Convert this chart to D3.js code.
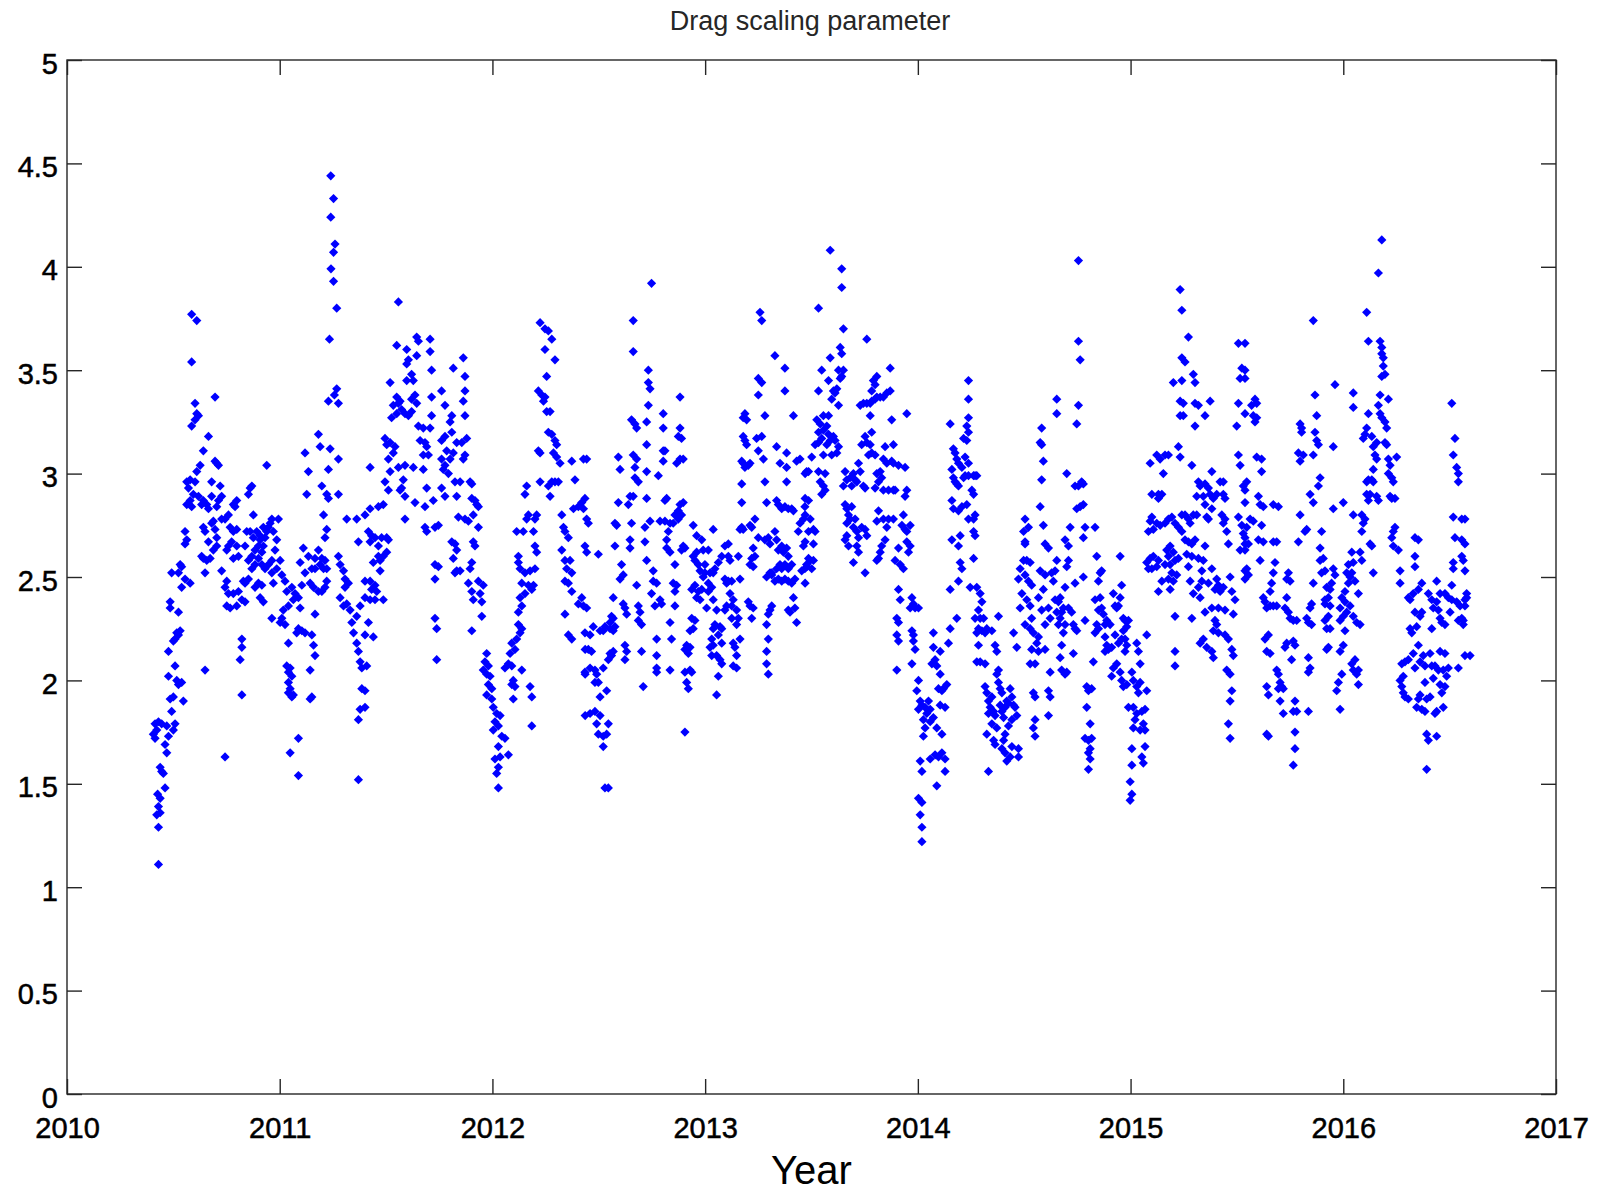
<!DOCTYPE html>
<html>
<head>
<meta charset="utf-8">
<script src="https://cdn.jsdelivr.net/npm/d3@7"></script>
<style>
  html, body { margin: 0; padding: 0; background: #fff; }
  svg { display: block; }
  text { font-family: "Liberation Sans", Arial, Helvetica, sans-serif; }
</style>
</head>
<body>
<svg id="chart" width="1610" height="1195"></svg>
<script>
// ---------------- data (year, value) ----------------
const chartTitle = "Drag scaling parameter";
const xLabel = "Year";
const xTicks = [2010, 2011, 2012, 2013, 2014, 2015, 2016, 2017];
const yTicks = [0, 0.5, 1, 1.5, 2, 2.5, 3, 3.5, 4, 4.5, 5];
const yTickLabels = ["0", "0.5", "1", "1.5", "2", "2.5", "3", "3.5", "4", "4.5", "5"];

const d2010 = [[2010.430,1.11],[2010.430,1.29],[2010.422,1.35],[2010.438,1.36],[2010.430,1.39],[2010.438,1.43],[2010.426,1.45],[2010.461,1.48],[2010.445,1.56],[2010.438,1.58],[2010.453,1.55],[2010.414,1.72],[2010.406,1.74],[2010.422,1.76],[2010.414,1.79],[2010.430,1.80],[2010.445,1.79],[2010.469,1.78],[2010.477,1.73],[2010.461,1.69],[2010.469,1.65],[2010.500,1.76],[2010.508,1.79],[2010.492,1.85],[2010.485,1.91],[2010.500,1.92],[2010.547,1.90],[2010.524,1.98],[2010.539,1.99],[2010.516,2.00],[2010.508,2.07],[2010.477,2.02],[2010.477,2.14],[2010.500,2.19],[2010.516,2.23],[2010.532,2.24],[2010.524,2.22],[2010.508,2.20],[2010.485,2.35],[2010.485,2.38],[2010.524,2.33],[2010.539,2.45],[2010.579,2.47],[2010.555,2.49],[2010.524,2.52],[2010.539,2.55],[2010.492,2.52],[2010.532,2.56],[2010.555,2.66],[2010.563,2.68],[2010.555,2.72],[2010.649,2.52],[2010.641,2.59],[2010.657,2.58],[2010.633,2.60],[2010.579,2.87],[2010.563,2.85],[2010.586,2.84],[2010.571,2.93],[2010.594,2.90],[2010.563,2.96],[2010.579,2.97],[2010.602,2.96],[2010.610,3.01],[2010.626,3.04],[2010.641,3.11],[2010.665,3.18],[2010.586,3.23],[2010.602,3.26],[2010.610,3.29],[2010.602,3.34],[2010.618,3.28],[2010.586,3.54],[2010.586,3.77],[2010.610,3.74],[2010.696,3.37],[2010.649,2.05],[2010.680,2.96],[2010.696,3.06],[2010.704,3.05],[2010.712,3.04],[2010.680,2.89],[2010.720,2.94],[2010.727,2.89],[2010.712,2.87],[2010.704,2.84],[2010.665,2.83],[2010.657,2.85],[2010.633,2.85],[2010.641,2.87],[2010.618,2.89],[2010.680,2.76],[2010.696,2.73],[2010.704,2.69],[2010.688,2.77],[2010.649,2.72],[2010.665,2.67],[2010.641,2.74],[2010.704,2.65],[2010.688,2.63],[2010.673,2.59],[2010.727,2.78],[2010.743,2.78],[2010.759,2.80],[2010.782,2.85],[2010.798,2.87],[2010.790,2.84],[2010.767,2.74],[2010.782,2.72],[2010.798,2.73],[2010.774,2.67],[2010.759,2.65],[2010.751,2.63],[2010.782,2.59],[2010.806,2.60],[2010.798,2.65],[2010.727,2.53],[2010.751,2.48],[2010.743,2.45],[2010.759,2.42],[2010.751,2.36],[2010.767,2.35],[2010.782,2.42],[2010.806,2.43],[2010.798,2.36],[2010.822,2.39],[2010.837,2.38],[2010.829,2.48],[2010.743,1.63],[2010.822,2.20],[2010.822,2.16],[2010.814,2.10],[2010.822,1.93],[2010.869,2.94],[2010.861,2.93],[2010.853,2.90],[2010.876,2.80],[2010.837,2.65],[2010.853,2.58],[2010.869,2.60],[2010.884,2.63],[2010.900,2.65],[2010.908,2.68],[2010.916,2.62],[2010.923,2.65],[2010.931,2.69],[2010.939,2.72],[2010.947,2.74],[2010.955,2.76],[2010.963,2.78],[2010.970,2.72],[2010.986,2.68],[2010.994,2.78],[2010.978,2.63],[2010.963,2.58],[2010.947,2.56],[2010.931,2.54],[2010.916,2.56],[2010.900,2.59],[2010.884,2.56],[2010.869,2.54],[2010.853,2.49],[2010.837,2.47],[2010.900,2.47],[2010.884,2.45],[2010.916,2.46],[2010.908,2.40],[2010.923,2.38],[2010.963,2.52],[2010.986,2.54],[2011.002,2.58],[2011.010,2.51],[2010.970,2.47],[2010.939,3.04],[2010.845,2.72],[2010.861,2.72],[2010.876,2.69],[2010.892,2.72],[2010.908,2.70],[2010.923,2.74]];

const d2011 = [[2011.025,2.48],[2011.033,2.43],[2011.057,2.45],[2011.072,2.42],[2011.064,2.39],[2011.041,2.36],[2011.017,2.34],[2011.010,2.30],[2011.025,2.27],[2011.002,2.28],[2010.963,2.30],[2011.041,2.18],[2011.033,2.07],[2011.049,2.06],[2011.041,2.04],[2011.057,2.02],[2011.041,1.99],[2011.049,1.96],[2011.064,1.93],[2011.057,1.92],[2011.041,1.94],[2011.049,1.65],[2011.088,1.72],[2011.088,1.54],[2011.088,2.25],[2011.080,2.23],[2011.104,2.24],[2011.119,2.23],[2011.096,2.35],[2011.088,2.40],[2011.104,2.46],[2011.119,2.52],[2011.096,2.57],[2011.111,2.64],[2011.135,2.60],[2011.151,2.54],[2011.166,2.54],[2011.143,2.47],[2011.159,2.45],[2011.182,2.43],[2011.151,2.22],[2011.159,2.17],[2011.166,2.12],[2011.143,2.05],[2011.151,1.92],[2011.143,1.91],[2011.127,2.90],[2011.119,3.10],[2011.135,3.01],[2011.182,3.19],[2011.190,3.13],[2011.198,2.94],[2011.206,2.80],[2011.221,2.73],[2011.213,2.69],[2011.166,2.59],[2011.182,2.63],[2011.198,2.59],[2011.213,2.58],[2011.206,2.54],[2011.221,2.54],[2011.190,2.56],[2011.221,2.48],[2011.213,2.45],[2011.198,2.43],[2011.166,2.32],[2011.240,4.44],[2011.253,4.33],[2011.240,4.24],[2011.260,4.11],[2011.253,4.07],[2011.241,3.99],[2011.253,3.93],[2011.268,3.80],[2011.234,3.65],[2011.268,3.41],[2011.229,3.35],[2011.276,3.34],[2011.257,3.38],[2011.237,3.12],[2011.229,3.02],[2011.276,3.07],[2011.276,2.90],[2011.229,2.88],[2011.221,2.90],[2011.276,2.60],[2011.284,2.56],[2011.300,2.53],[2011.307,2.49],[2011.323,2.47],[2011.307,2.45],[2011.284,2.40],[2011.300,2.36],[2011.315,2.37],[2011.331,2.34],[2011.339,2.28],[2011.362,2.31],[2011.378,2.36],[2011.347,2.23],[2011.362,2.18],[2011.370,2.14],[2011.378,2.09],[2011.386,2.06],[2011.386,1.96],[2011.378,1.86],[2011.370,1.81],[2011.370,1.52],[2011.315,2.78],[2011.362,2.78],[2011.370,2.67],[2011.425,3.03],[2011.401,2.80],[2011.425,2.83],[2011.417,2.72],[2011.432,2.70],[2011.425,2.67],[2011.448,2.69],[2011.464,2.65],[2011.479,2.69],[2011.503,2.69],[2011.511,2.68],[2011.464,2.60],[2011.487,2.60],[2011.503,2.62],[2011.472,2.58],[2011.440,2.57],[2011.472,2.53],[2011.401,2.48],[2011.425,2.48],[2011.448,2.46],[2011.432,2.44],[2011.456,2.43],[2011.401,2.40],[2011.425,2.39],[2011.448,2.39],[2011.487,2.39],[2011.417,2.28],[2011.401,2.22],[2011.440,2.21],[2011.409,2.07],[2011.401,1.95],[2011.401,1.87],[2011.464,2.84],[2011.487,2.85],[2011.511,2.92],[2011.495,2.96],[2011.519,3.01],[2011.511,3.07],[2011.503,3.14],[2011.519,3.15],[2011.542,3.13],[2011.534,3.10],[2011.495,3.17],[2011.526,3.27],[2011.550,3.29],[2011.534,3.33],[2011.558,3.34],[2011.550,3.37],[2011.573,3.31],[2011.589,3.29],[2011.605,3.28],[2011.620,3.30],[2011.566,3.35],[2011.519,3.44],[2011.558,3.83],[2011.550,3.62],[2011.597,3.60],[2011.605,3.55],[2011.597,3.53],[2011.644,3.66],[2011.652,3.64],[2011.644,3.57],[2011.620,3.48],[2011.628,3.45],[2011.597,3.45],[2011.636,3.38],[2011.620,3.36],[2011.644,3.34],[2011.707,3.65],[2011.707,3.59],[2011.714,3.50],[2011.714,3.37],[2011.761,3.40],[2011.777,3.33],[2011.714,3.28],[2011.707,3.22],[2011.652,3.23],[2011.675,3.22],[2011.660,3.16],[2011.683,3.15],[2011.691,3.13],[2011.675,3.09],[2011.699,3.09],[2011.558,3.03],[2011.589,3.04],[2011.628,3.03],[2011.675,3.02],[2011.581,2.97],[2011.573,2.93],[2011.589,2.89],[2011.566,2.92],[2011.636,2.86],[2011.683,2.84],[2011.691,2.93],[2011.722,2.87],[2011.761,2.93],[2011.777,2.89],[2011.589,2.78],[2011.683,2.74],[2011.691,2.72],[2011.730,2.74],[2011.746,2.75],[2011.730,2.56],[2011.746,2.55],[2011.730,2.49],[2011.730,2.30],[2011.738,2.25],[2011.738,2.10],[2011.761,3.16],[2011.777,3.18],[2011.785,3.11],[2011.761,3.07],[2011.777,3.04],[2011.793,3.00],[2011.769,3.02],[2011.801,3.07],[2011.816,3.10],[2011.809,3.20],[2011.816,3.51],[2011.863,3.56],[2011.871,3.47],[2011.871,3.40],[2011.863,3.35],[2011.871,3.28],[2011.809,3.28],[2011.801,3.25],[2011.832,3.15],[2011.856,3.15],[2011.879,3.17],[2011.871,3.09],[2011.863,3.07],[2011.824,2.96],[2011.848,2.96],[2011.832,2.89],[2011.840,2.79],[2011.871,2.78],[2011.887,2.77],[2011.895,2.96],[2011.903,2.95],[2011.809,2.67],[2011.824,2.66],[2011.832,2.63],[2011.816,2.59],[2011.832,2.53],[2011.824,2.52],[2011.848,2.53],[2011.903,2.88],[2011.918,2.87],[2011.926,2.85],[2011.934,2.84],[2011.910,2.80],[2011.934,2.74],[2011.910,2.67],[2011.918,2.65],[2011.903,2.57],[2011.895,2.54],[2011.887,2.47],[2011.903,2.43],[2011.910,2.39],[2011.934,2.48],[2011.942,2.42],[2011.950,2.38],[2011.957,2.46],[2011.950,2.31],[2011.903,2.24]];

const d2012 = [[2011.973,2.13],[2011.965,2.09],[2011.981,2.07],[2011.957,2.05],[2011.973,2.03],[2011.989,2.02],[2011.981,1.98],[2011.997,1.96],[2011.973,1.93],[2011.997,1.91],[2012.004,1.87],[2012.020,1.84],[2012.036,1.83],[2012.012,1.80],[2012.028,1.78],[2012.004,1.76],[2012.044,1.73],[2012.059,1.72],[2012.028,1.68],[2012.012,1.62],[2012.036,1.63],[2012.075,1.64],[2012.028,1.58],[2012.020,1.55],[2012.028,1.48],[2012.059,2.06],[2012.075,2.08],[2012.091,2.07],[2012.098,2.00],[2012.091,1.98],[2012.106,1.97],[2012.083,2.13],[2012.091,2.18],[2012.114,2.20],[2012.106,2.15],[2012.130,2.23],[2012.138,2.25],[2012.122,2.27],[2012.138,2.05],[2012.177,1.97],[2012.185,1.92],[2012.185,1.78],[2012.098,1.91],[2012.122,2.33],[2012.138,2.36],[2012.130,2.40],[2012.153,2.42],[2012.138,2.47],[2012.169,2.46],[2012.185,2.44],[2012.193,2.46],[2012.153,2.52],[2012.177,2.53],[2012.200,2.54],[2012.200,2.65],[2012.208,2.62],[2012.193,2.72],[2012.130,2.54],[2012.122,2.57],[2012.122,2.60],[2012.114,2.72],[2012.145,2.72],[2012.161,2.78],[2012.169,2.80],[2012.200,2.78],[2012.208,2.80],[2012.153,2.90],[2012.161,2.94],[2012.224,2.96],[2012.216,3.11],[2012.224,3.10],[2012.216,3.40],[2012.232,3.38],[2012.240,3.35],[2012.247,3.37],[2012.255,3.30],[2012.271,3.30],[2012.255,3.47],[2012.247,3.60],[2012.294,3.55],[2012.224,3.73],[2012.247,3.70],[2012.263,3.69],[2012.279,3.65],[2012.263,3.20],[2012.279,3.19],[2012.294,3.16],[2012.302,3.14],[2012.287,3.10],[2012.302,3.08],[2012.318,3.05],[2012.294,2.96],[2012.279,2.96],[2012.310,2.96],[2012.263,2.94],[2012.271,2.89],[2012.326,2.80],[2012.334,2.74],[2012.341,2.72],[2012.357,2.69],[2012.326,2.63],[2012.341,2.58],[2012.365,2.58],[2012.349,2.54],[2012.373,2.52],[2012.341,2.48],[2012.357,2.47],[2012.373,2.43],[2012.404,2.37],[2012.428,2.36],[2012.420,2.40],[2012.341,2.32],[2012.357,2.22],[2012.373,2.20],[2012.436,2.15],[2012.436,2.03],[2012.436,1.83],[2012.373,3.06],[2012.388,2.97],[2012.428,3.07],[2012.420,2.86],[2012.428,2.83],[2012.443,2.78],[2012.404,2.84],[2012.381,2.83],[2012.443,3.07],[2012.435,2.88],[2012.451,2.76],[2012.435,2.65],[2012.443,2.62],[2012.498,2.61],[2012.443,2.35],[2012.435,2.23],[2012.459,2.22],[2012.474,2.26],[2012.506,2.24],[2012.521,2.24],[2012.529,2.26],[2012.553,2.25],[2012.568,2.24],[2012.576,2.26],[2012.451,2.15],[2012.466,2.14],[2012.459,2.06],[2012.482,2.05],[2012.435,2.04],[2012.490,2.03],[2012.482,1.99],[2012.498,1.99],[2012.521,2.06],[2012.537,1.95],[2012.506,1.92],[2012.482,1.85],[2012.459,1.84],[2012.506,1.83],[2012.490,1.79],[2012.545,1.79],[2012.498,1.74],[2012.521,1.73],[2012.537,1.74],[2012.521,1.68],[2012.529,1.48],[2012.545,1.48],[2012.553,2.13],[2012.560,2.12],[2012.545,2.10],[2012.568,2.14],[2012.560,2.31],[2012.568,2.30],[2012.553,2.28],[2012.568,2.40],[2012.576,2.76],[2012.584,2.75],[2012.576,2.65],[2012.592,2.86],[2012.600,3.02],[2012.592,3.08],[2012.607,2.56],[2012.615,2.51],[2012.600,2.49],[2012.615,2.37],[2012.623,2.35],[2012.631,2.32],[2012.623,2.17],[2012.631,2.14],[2012.623,2.10],[2012.647,2.89],[2012.662,2.89],[2012.639,2.85],[2012.654,2.76],[2012.647,2.68],[2012.647,2.64],[2012.670,3.03],[2012.662,3.09],[2012.678,3.07],[2012.686,2.96],[2012.670,2.98],[2012.654,3.26],[2012.670,3.24],[2012.678,3.22],[2012.662,3.74],[2012.662,3.59],[2012.678,2.46],[2012.686,2.36],[2012.694,2.33],[2012.686,2.29],[2012.701,2.27],[2012.701,2.14],[2012.709,1.97],[2012.717,2.74],[2012.717,2.67],[2012.725,2.58],[2012.725,2.88],[2012.725,3.01],[2012.725,3.14],[2012.725,3.25],[2012.733,3.33],[2012.733,3.44],[2012.741,3.41],[2012.733,3.50],[2012.748,3.92],[2012.741,2.77],[2012.756,2.53],[2012.756,2.48],[2012.772,2.47],[2012.748,2.42],[2012.764,2.36],[2012.772,2.20],[2012.772,2.12],[2012.772,2.06],[2012.772,2.04],[2012.788,2.39],[2012.795,2.37],[2012.788,2.77],[2012.780,2.99],[2012.803,3.06],[2012.803,3.11],[2012.811,3.11],[2012.803,3.22],[2012.803,3.29],[2012.811,2.87],[2012.819,2.88],[2012.811,2.77],[2012.835,2.76],[2012.858,2.80],[2012.874,2.78],[2012.889,2.80],[2012.897,2.86],[2012.882,2.85],[2012.874,2.82],[2012.850,2.76],[2012.827,2.72],[2012.819,2.68],[2012.819,2.64],[2012.835,2.62],[2012.858,2.56],[2012.850,2.47],[2012.858,2.43],[2012.866,2.46],[2012.858,2.36],[2012.835,2.28],[2012.842,2.20],[2012.835,2.05],[2012.866,3.05],[2012.882,3.07],[2012.874,3.18],[2012.882,3.22],[2012.889,3.17],[2012.882,3.37],[2012.897,3.07],[2012.897,2.65],[2012.905,2.64],[2012.889,2.63],[2012.913,2.17],[2012.905,2.15],[2012.921,2.13],[2012.905,2.04],[2012.929,2.05],[2012.937,2.04],[2012.913,1.99],[2012.921,1.96],[2012.905,1.75],[2012.929,2.16],[2012.937,2.30],[2012.929,2.24],[2012.944,2.25],[2012.952,2.29],[2012.937,2.44],[2012.952,2.46],[2012.968,2.43],[2012.984,2.44],[2012.976,2.39],[2012.960,2.40],[2012.999,2.52],[2012.999,2.56],[2012.991,2.50],[2012.976,2.53],[2012.968,2.56],[2012.952,2.58],[2012.944,2.60],[2012.960,2.62],[2012.944,2.75],[2012.960,2.70],[2012.984,2.68],[2012.991,2.63]];

const d2013 = [[2013.015,2.63],[2013.023,2.52],[2013.015,2.47],[2013.038,2.52],[2013.046,2.54],[2013.031,2.45],[2013.015,2.43],[2013.038,2.39],[2013.007,2.35],[2013.054,2.34],[2013.046,2.27],[2013.038,2.25],[2013.070,2.26],[2013.078,2.25],[2013.062,2.22],[2013.078,2.18],[2013.031,2.20],[2013.038,2.17],[2013.023,2.16],[2013.031,2.12],[2013.054,2.12],[2013.070,2.10],[2013.078,2.08],[2013.062,2.02],[2013.054,1.93],[2013.038,2.73],[2013.062,2.57],[2013.078,2.60],[2013.093,2.65],[2013.109,2.66],[2013.117,2.58],[2013.109,2.60],[2013.093,2.49],[2013.109,2.48],[2013.125,2.48],[2013.101,2.47],[2013.117,2.42],[2013.132,2.39],[2013.125,2.36],[2013.148,2.34],[2013.156,2.30],[2013.125,2.30],[2013.101,2.36],[2013.093,2.34],[2013.132,2.18],[2013.140,2.16],[2013.148,2.12],[2013.132,2.07],[2013.148,2.06],[2013.164,2.20],[2013.148,2.27],[2013.164,2.49],[2013.156,2.60],[2013.164,2.73],[2013.172,2.74],[2013.179,2.73],[2013.172,2.86],[2013.179,3.27],[2013.187,3.29],[2013.195,3.26],[2013.179,3.18],[2013.187,3.16],[2013.195,3.14],[2013.172,3.06],[2013.179,3.05],[2013.187,3.03],[2013.203,3.04],[2013.211,3.05],[2013.172,2.95],[2013.211,2.75],[2013.219,2.74],[2013.234,2.78],[2013.226,2.64],[2013.219,2.59],[2013.234,2.60],[2013.226,2.55],[2013.211,2.56],[2013.203,2.38],[2013.211,2.36],[2013.226,2.35],[2013.219,2.30],[2013.250,2.69],[2013.242,3.17],[2013.250,3.11],[2013.274,3.07],[2013.266,3.18],[2013.258,3.78],[2013.266,3.74],[2013.250,3.46],[2013.266,3.44],[2013.250,3.38],[2013.281,3.28],[2013.281,2.96],[2013.289,2.86],[2013.281,2.68],[2013.297,2.69],[2013.305,2.66],[2013.289,2.50],[2013.305,2.52],[2013.313,2.51],[2013.305,2.34],[2013.297,2.32],[2013.313,2.36],[2013.289,2.27],[2013.297,2.20],[2013.289,2.14],[2013.289,2.08],[2013.297,2.03],[2013.328,3.57],[2013.375,3.51],[2013.375,3.40],[2013.415,3.28],[2013.336,3.13],[2013.383,3.10],[2013.352,3.05],[2013.383,3.03],[2013.383,2.96],[2013.336,2.87],[2013.344,2.85],[2013.360,2.83],[2013.375,2.84],[2013.391,2.83],[2013.407,2.83],[2013.415,2.82],[2013.328,2.72],[2013.336,2.68],[2013.344,2.63],[2013.360,2.65],[2013.368,2.62],[2013.383,2.64],[2013.391,2.60],[2013.352,2.56],[2013.360,2.54],[2013.375,2.56],[2013.391,2.54],[2013.407,2.56],[2013.328,2.48],[2013.344,2.49],[2013.360,2.48],[2013.375,2.49],[2013.391,2.48],[2013.407,2.47],[2013.422,2.49],[2013.415,2.40],[2013.422,2.35],[2013.399,2.33],[2013.430,2.28],[2013.391,2.34],[2013.313,2.52],[2013.336,2.54],[2013.430,3.06],[2013.446,3.07],[2013.438,2.72],[2013.446,2.76],[2013.462,2.78],[2013.469,2.84],[2013.462,2.65],[2013.469,2.54],[2013.454,2.53],[2013.477,2.56],[2013.477,3.01],[2013.470,3.00],[2013.486,3.01],[2013.470,2.88],[2013.486,2.87],[2013.470,2.80],[2013.494,2.78],[2013.509,2.73],[2013.486,2.72],[2013.517,2.72],[2013.470,2.67],[2013.509,2.66],[2013.486,2.59],[2013.494,2.58],[2013.509,2.58],[2013.478,2.55],[2013.501,2.54],[2013.470,2.47],[2013.533,3.80],[2013.533,3.40],[2013.548,3.50],[2013.580,3.45],[2013.588,3.56],[2013.595,3.36],[2013.603,3.40],[2013.619,3.41],[2013.611,3.39],[2013.627,3.33],[2013.580,3.28],[2013.556,3.28],[2013.525,3.26],[2013.541,3.24],[2013.533,3.20],[2013.556,3.21],[2013.572,3.23],[2013.580,3.19],[2013.603,3.18],[2013.611,3.16],[2013.588,3.16],[2013.572,3.14],[2013.548,3.17],[2013.533,3.15],[2013.517,3.14],[2013.501,3.08],[2013.556,3.09],[2013.595,3.09],[2013.619,3.10],[2013.627,3.13],[2013.588,4.08],[2013.642,3.99],[2013.642,3.90],[2013.650,3.70],[2013.635,3.61],[2013.642,3.58],[2013.627,3.50],[2013.650,3.50],[2013.642,3.47],[2013.635,3.46],[2013.533,3.01],[2013.541,2.96],[2013.556,2.94],[2013.564,2.92],[2013.548,2.90],[2013.564,3.00],[2013.658,3.01],[2013.650,2.94],[2013.666,2.97],[2013.682,2.98],[2013.697,3.00],[2013.705,2.97],[2013.713,2.96],[2013.689,2.94],[2013.729,3.01],[2013.744,2.94],[2013.752,2.93],[2013.721,3.05],[2013.658,2.85],[2013.666,2.83],[2013.674,2.80],[2013.689,2.84],[2013.682,2.78],[2013.666,2.76],[2013.705,2.78],[2013.697,2.74],[2013.713,2.72],[2013.721,2.69],[2013.736,2.74],[2013.752,2.73],[2013.760,2.70],[2013.666,2.70],[2013.658,2.68],[2013.674,2.65],[2013.713,2.65],[2013.721,2.62],[2013.697,2.57],[2013.752,2.52],[2013.729,3.33],[2013.744,3.34],[2013.760,3.34],[2013.776,3.34],[2013.783,3.35],[2013.799,3.36],[2013.807,3.37],[2013.823,3.37],[2013.838,3.37],[2013.854,3.39],[2013.870,3.40],[2013.791,3.45],[2013.799,3.43],[2013.783,3.40],[2013.807,3.47],[2013.760,3.65],[2013.776,3.28],[2013.783,3.20],[2013.752,3.18],[2013.736,3.14],[2013.760,3.15],[2013.776,3.14],[2013.783,3.10],[2013.799,3.09],[2013.768,3.09],[2013.870,3.51],[2013.877,3.26],[2013.948,3.29],[2013.885,3.14],[2013.846,3.13],[2013.838,3.07],[2013.854,3.05],[2013.877,3.06],[2013.885,3.05],[2013.823,3.01],[2013.807,3.00],[2013.830,2.98],[2013.799,2.93],[2013.815,2.96],[2013.838,2.92],[2013.862,2.92],[2013.885,2.92],[2013.893,2.92],[2013.815,2.82],[2013.807,2.77],[2013.838,2.78],[2013.862,2.78],[2013.885,2.78],[2013.854,2.74],[2013.846,2.68],[2013.830,2.65],[2013.823,2.62],[2013.807,2.58],[2013.815,2.59],[2013.909,3.04],[2013.940,3.03],[2013.948,2.92],[2013.940,2.89],[2013.932,2.80],[2013.925,2.75],[2013.940,2.73],[2013.964,2.75],[2013.948,2.72],[2013.948,2.67],[2013.964,2.65],[2013.956,2.62],[2013.909,2.64],[2013.893,2.58],[2013.917,2.56],[2013.932,2.54],[2013.909,2.44],[2013.917,2.39],[2013.901,2.30],[2013.909,2.28],[2013.901,2.22],[2013.909,2.19],[2013.901,2.05],[2013.972,2.40],[2013.979,2.37],[2013.964,2.35],[2013.987,2.35],[2014.003,2.35],[2013.972,2.24],[2013.979,2.22],[2013.987,2.15],[2013.972,2.08],[2013.979,2.19]];

const d2014 = [[2014.003,2.00],[2013.995,1.95],[2014.011,1.90],[2014.003,1.86],[2014.019,1.88],[2014.034,1.87],[2014.050,1.90],[2014.058,1.86],[2014.042,1.84],[2014.026,1.81],[2014.034,1.77],[2014.026,1.73],[2014.058,1.80],[2014.073,1.82],[2014.066,2.08],[2014.081,2.10],[2014.073,2.16],[2014.073,2.23],[2014.089,2.07],[2014.105,2.14],[2014.105,2.03],[2014.097,1.96],[2014.113,1.95],[2014.105,1.88],[2014.120,1.96],[2014.136,1.98],[2014.144,2.18],[2014.152,2.25],[2014.128,1.87],[2014.089,1.77],[2014.113,1.74],[2014.081,1.64],[2014.097,1.63],[2014.113,1.65],[2014.128,1.62],[2014.128,1.56],[2014.089,1.49],[2014.011,1.61],[2014.019,1.56],[2014.003,1.43],[2014.019,1.41],[2014.011,1.35],[2014.019,1.29],[2014.019,1.22],[2014.058,1.62],[2014.152,3.24],[2014.167,3.12],[2014.175,3.10],[2014.183,3.07],[2014.191,3.05],[2014.207,3.03],[2014.160,3.02],[2014.167,2.98],[2014.175,2.96],[2014.183,2.95],[2014.191,2.94],[2014.215,2.98],[2014.222,2.99],[2014.238,2.99],[2014.262,2.99],[2014.269,2.99],[2014.277,2.99],[2014.160,2.87],[2014.167,2.83],[2014.191,2.82],[2014.207,2.84],[2014.230,2.85],[2014.238,2.78],[2014.262,2.78],[2014.269,2.80],[2014.262,2.90],[2014.254,2.92],[2014.199,2.70],[2014.160,2.68],[2014.191,2.65],[2014.199,2.57],[2014.207,2.54],[2014.191,2.48],[2014.152,2.44],[2014.183,2.30],[2014.238,3.45],[2014.238,3.36],[2014.238,3.27],[2014.230,3.23],[2014.238,3.20],[2014.215,3.17],[2014.230,3.16],[2014.222,3.08],[2014.238,3.05],[2014.262,2.72],[2014.269,2.70],[2014.262,2.59],[2014.246,2.45],[2014.277,2.45],[2014.293,2.42],[2014.301,2.38],[2014.285,2.34],[2014.269,2.30],[2014.293,2.30],[2014.309,2.30],[2014.285,2.25],[2014.301,2.24],[2014.324,2.25],[2014.316,2.23],[2014.277,2.23],[2014.285,2.17],[2014.277,2.09],[2014.293,2.09],[2014.316,2.08],[2014.379,2.31],[2014.363,2.17],[2014.348,2.24],[2014.316,1.97],[2014.324,1.94],[2014.332,1.90],[2014.340,1.87],[2014.332,1.84],[2014.348,1.92],[2014.356,1.85],[2014.363,1.83],[2014.348,1.79],[2014.324,1.74],[2014.356,1.71],[2014.363,1.69],[2014.371,1.77],[2014.379,2.05],[2014.371,2.03],[2014.379,1.99],[2014.387,1.96],[2014.395,1.94],[2014.387,1.88],[2014.395,1.85],[2014.403,1.82],[2014.410,1.87],[2014.418,1.90],[2014.426,1.89],[2014.442,1.92],[2014.434,1.96],[2014.450,1.88],[2014.457,1.87],[2014.465,1.83],[2014.442,1.81],[2014.426,1.78],[2014.410,1.74],[2014.403,1.71],[2014.395,1.67],[2014.410,1.65],[2014.418,1.61],[2014.434,1.63],[2014.442,1.68],[2014.473,1.67],[2014.473,1.63],[2014.332,1.56],[2014.371,2.14],[2014.450,2.23],[2014.465,2.16],[2014.481,2.35],[2014.489,2.42],[2014.473,2.49],[2014.481,2.54],[2014.497,2.58],[2014.504,2.67],[2014.497,2.72],[2014.504,2.78],[2014.520,2.74],[2014.504,2.66],[2014.512,2.58],[2014.528,2.57],[2014.504,2.51],[2014.520,2.48],[2014.535,2.46],[2014.512,2.39],[2014.528,2.36],[2014.535,2.30],[2014.504,2.27],[2014.528,2.25],[2014.543,2.23],[2014.535,2.15],[2014.551,2.08],[2014.528,2.08],[2014.559,2.18],[2014.567,2.14],[2014.543,1.94],[2014.551,1.92],[2014.551,1.81],[2014.543,1.77],[2014.551,1.73],[2014.582,3.22],[2014.575,3.15],[2014.582,3.14],[2014.590,3.06],[2014.582,2.97],[2014.575,2.84],[2014.590,2.75],[2014.598,2.66],[2014.614,2.64],[2014.575,2.53],[2014.598,2.51],[2014.590,2.44],[2014.567,2.40],[2014.582,2.34],[2014.614,2.35],[2014.622,2.30],[2014.598,2.27],[2014.567,2.21],[2014.598,2.15],[2014.622,2.04],[2014.614,1.95],[2014.622,1.92],[2014.614,1.83],[2014.629,2.52],[2014.645,2.53],[2014.637,2.48],[2014.653,2.58],[2014.645,2.39],[2014.661,2.38],[2014.669,2.40],[2014.653,2.33],[2014.669,2.30],[2014.676,2.33],[2014.684,2.35],[2014.661,2.27],[2014.692,2.27],[2014.684,2.23],[2014.676,2.17],[2014.669,2.11],[2014.676,2.05],[2014.692,2.03],[2014.653,3.36],[2014.653,3.29],[2014.700,3.00],[2014.692,2.68],[2014.708,2.65],[2014.708,2.58],[2014.700,2.55],[2014.692,2.45],[2014.716,2.74],[2014.739,2.47],[2014.723,2.33],[2014.708,2.35],[2014.731,2.27],[2014.739,2.25],[2014.747,2.24],[2014.731,2.13],[2014.700,2.04],[2014.755,4.03],[2014.755,3.64],[2014.763,3.55],[2014.755,3.33],[2014.747,3.24],[2014.739,2.94],[2014.755,2.94],[2014.770,2.96],[2014.778,2.95],[2014.747,2.83],[2014.763,2.84],[2014.778,2.85],[2014.786,2.74],[2014.778,2.69],[2014.778,2.50],[2014.794,1.97],[2014.802,1.95],[2014.817,1.96],[2014.794,1.87],[2014.810,1.79],[2014.786,1.72],[2014.802,1.71],[2014.817,1.72],[2014.810,1.67],[2014.802,1.65],[2014.810,1.62],[2014.802,1.57],[2014.825,2.09],[2014.786,2.29],[2014.833,2.74],[2014.841,2.60],[2014.857,2.52],[2014.849,2.48],[2014.864,2.53],[2014.833,2.39],[2014.857,2.40],[2014.849,2.34],[2014.864,2.35],[2014.872,2.32],[2014.841,2.27],[2014.833,2.23],[2014.849,2.25],[2014.880,2.27],[2014.888,2.29],[2014.904,2.27],[2014.880,2.21],[2014.888,2.17],[2014.880,2.14],[2014.896,2.15],[2014.911,2.16],[2014.927,2.22],[2014.919,2.42],[2014.927,2.36],[2014.943,2.36],[2014.951,2.40],[2014.958,2.46],[2014.935,2.35],[2014.966,2.30],[2014.974,2.29],[2014.990,2.29],[2014.982,2.26],[2014.966,2.24],[2014.958,2.20],[2014.943,2.18],[2014.974,2.20],[2014.982,2.17],[2014.974,2.14],[2014.935,2.08],[2014.919,2.06],[2014.911,2.02],[2014.951,2.60],[2014.951,2.04],[2014.958,2.00],[2014.966,1.97],[2014.982,1.98],[2014.990,1.87],[2014.998,1.51],[2014.998,1.42]];

const d2015 = [[2015.006,2.04],[2015.013,2.00],[2015.013,1.87],[2015.029,1.84],[2015.021,1.81],[2015.013,1.77],[2015.053,1.85],[2015.068,1.86],[2015.060,1.79],[2015.045,1.76],[2015.068,1.76],[2015.068,1.68],[2015.053,1.63],[2015.060,1.60],[2015.006,1.67],[2015.006,1.59],[2015.006,1.45],[2015.037,1.94],[2015.029,1.97],[2015.045,1.99],[2015.076,1.95],[2015.045,2.08],[2015.037,2.14],[2015.029,2.18],[2015.076,2.22],[2015.076,2.57],[2015.084,2.54],[2015.100,2.54],[2015.123,2.55],[2015.092,2.59],[2015.107,2.60],[2015.131,2.58],[2015.084,2.72],[2015.107,2.73],[2015.092,2.77],[2015.100,2.79],[2015.123,2.76],[2015.139,2.75],[2015.162,2.76],[2015.100,2.90],[2015.131,2.90],[2015.147,2.90],[2015.131,2.88],[2015.092,3.05],[2015.123,3.09],[2015.139,3.07],[2015.162,3.09],[2015.154,3.00],[2015.178,3.09],[2015.131,2.43],[2015.147,2.48],[2015.162,2.56],[2015.178,2.60],[2015.170,2.63],[2015.186,2.65],[2015.201,2.62],[2015.209,2.58],[2015.225,2.59],[2015.186,2.56],[2015.194,2.52],[2015.217,2.51],[2015.178,2.49],[2015.201,2.48],[2015.186,2.44],[2015.209,2.31],[2015.209,2.14],[2015.209,2.07],[2015.201,3.44],[2015.241,3.45],[2015.233,3.35],[2015.248,3.34],[2015.233,3.28],[2015.248,3.28],[2015.272,3.66],[2015.241,3.56],[2015.256,3.54],[2015.295,3.48],[2015.303,3.44],[2015.233,3.89],[2015.241,3.79],[2015.225,3.13],[2015.233,3.08],[2015.178,2.78],[2015.194,2.79],[2015.209,2.76],[2015.225,2.74],[2015.241,2.80],[2015.256,2.80],[2015.272,2.78],[2015.280,2.76],[2015.295,2.80],[2015.311,2.80],[2015.241,2.72],[2015.256,2.68],[2015.272,2.67],[2015.288,2.66],[2015.303,2.68],[2015.264,2.61],[2015.288,2.60],[2015.319,2.59],[2015.272,2.55],[2015.280,2.48],[2015.295,2.42],[2015.327,2.40],[2015.319,2.45],[2015.335,2.48],[2015.288,2.30],[2015.288,3.04],[2015.319,2.96],[2015.311,2.89],[2015.327,2.94],[2015.350,2.95],[2015.366,2.93],[2015.342,2.89],[2015.350,2.85],[2015.374,2.90],[2015.382,3.01],[2015.358,2.79],[2015.366,2.78],[2015.382,2.83],[2015.389,2.88],[2015.405,2.90],[2015.421,2.96],[2015.436,2.96],[2015.436,2.90],[2015.444,2.88],[2015.429,2.80],[2015.444,2.78],[2015.436,2.76],[2015.452,2.72],[2015.460,2.66],[2015.303,3.34],[2015.319,3.33],[2015.350,3.28],[2015.374,3.35],[2015.303,3.23],[2015.350,2.65],[2015.342,2.58],[2015.335,2.53],[2015.382,2.54],[2015.366,2.47],[2015.405,2.49],[2015.413,2.46],[2015.397,2.44],[2015.421,2.43],[2015.436,2.45],[2015.468,2.50],[2015.476,2.43],[2015.491,2.39],[2015.483,2.32],[2015.444,2.34],[2015.413,2.35],[2015.382,2.35],[2015.350,2.33],[2015.397,2.29],[2015.405,2.27],[2015.389,2.24],[2015.413,2.23],[2015.444,2.22],[2015.460,2.20],[2015.342,2.20],[2015.327,2.18],[2015.358,2.16],[2015.382,2.14],[2015.389,2.11],[2015.476,2.15],[2015.483,2.12],[2015.452,2.05],[2015.468,2.03],[2015.476,1.95],[2015.468,1.90],[2015.460,1.79],[2015.468,1.72],[2015.507,3.63],[2015.523,3.51],[2015.515,3.46],[2015.507,3.34],[2015.499,3.23],[2015.507,3.09],[2015.515,3.04],[2015.530,2.94],[2015.538,2.92],[2015.507,2.79],[2015.523,2.75],[2015.530,2.71],[2015.538,2.66],[2015.515,2.63],[2015.538,2.53],[2015.538,3.63],[2015.538,3.50],[2015.538,3.46],[2015.538,3.29],[2015.569,3.33],[2015.585,3.36],[2015.593,3.34],[2015.577,3.28],[2015.593,3.27],[2015.585,3.25],[2015.546,2.96],[2015.538,2.86],[2015.562,2.78],[2015.577,2.77],[2015.546,2.74],[2015.538,2.69],[2015.554,2.66],[2015.538,2.63],[2015.546,2.54],[2015.554,2.51],[2015.538,2.49],[2015.593,3.08],[2015.616,3.07],[2015.616,3.01],[2015.601,2.89],[2015.609,2.85],[2015.624,2.84],[2015.616,2.75],[2015.601,2.68],[2015.624,2.67],[2015.671,2.67],[2015.687,2.67],[2015.609,2.58],[2015.671,2.85],[2015.695,2.84],[2015.624,2.40],[2015.632,2.38],[2015.640,2.35],[2015.656,2.36],[2015.671,2.36],[2015.687,2.36],[2015.663,2.47],[2015.671,2.52],[2015.679,2.57],[2015.656,2.43],[2015.632,2.20],[2015.648,2.22],[2015.640,2.14],[2015.656,2.13],[2015.640,1.97],[2015.648,1.93],[2015.640,1.74],[2015.648,1.73],[2015.687,2.05],[2015.695,2.03],[2015.703,1.99],[2015.710,1.97],[2015.695,1.96],[2015.718,1.96],[2015.703,1.90],[2015.718,1.84],[2015.734,2.49],[2015.742,2.52],[2015.750,2.48],[2015.734,2.40],[2015.726,2.35],[2015.742,2.33],[2015.750,2.30],[2015.765,2.29],[2015.781,2.29],[2015.734,2.18],[2015.726,2.16],[2015.765,2.19],[2015.773,2.17],[2015.757,2.10],[2015.773,1.90],[2015.765,1.85],[2015.781,1.85],[2015.773,1.75],[2015.773,1.67],[2015.765,1.59],[2015.797,2.80],[2015.820,2.72],[2015.828,2.73],[2015.789,2.67],[2015.804,3.22],[2015.797,3.24],[2015.804,3.20],[2015.789,3.10],[2015.812,3.09],[2015.797,3.06],[2015.859,3.74],[2015.867,3.38],[2015.875,3.28],[2015.867,3.20],[2015.875,3.16],[2015.883,3.14],[2015.859,3.09],[2015.891,2.98],[2015.883,2.94],[2015.844,2.90],[2015.859,2.86],[2015.898,2.72],[2015.891,2.64],[2015.891,2.58],[2015.898,2.52],[2015.859,2.47],[2015.851,2.37],[2015.844,2.35],[2015.828,2.30],[2015.836,2.28],[2015.851,2.27],[2015.836,2.11],[2015.844,2.06],[2015.836,2.04],[2015.836,1.85],[2015.906,2.59],[2015.914,2.53],[2015.922,2.45],[2015.914,2.39],[2015.930,2.40],[2015.938,2.44],[2015.945,2.47],[2015.953,2.54],[2015.961,2.51],[2015.938,2.36],[2015.914,2.29],[2015.930,2.31],[2015.922,2.25],[2015.938,2.25],[2015.930,2.16],[2015.922,2.15],[2015.914,2.37],[2015.953,3.13],[2015.961,3.43],[2015.953,2.83],[2015.969,1.95],[2015.985,1.86],[2015.977,1.99],[2015.993,2.03],[2015.985,2.14],[2015.985,2.35],[2015.993,2.40],[2015.985,2.29]];

const d2016 = [[2016.000,2.17],[2016.008,2.24],[2016.008,2.43],[2016.024,2.47],[2016.016,2.52],[2016.032,2.50],[2016.040,2.52],[2016.024,2.56],[2016.008,2.38],[2016.000,2.31],[2016.016,2.33],[2016.032,2.36],[2016.047,2.31],[2016.063,2.28],[2016.079,2.27],[2016.055,2.48],[2016.071,2.42],[2016.047,2.57],[2016.087,2.58],[2016.079,2.62],[2016.040,2.62],[2016.047,3.39],[2016.047,3.32],[2016.000,2.86],[2016.047,2.80],[2016.055,2.10],[2016.040,2.08],[2016.063,2.03],[2016.071,2.05],[2016.071,1.98],[2016.047,2.05],[2016.087,2.80],[2016.094,2.76],[2016.087,2.72],[2016.102,2.78],[2016.118,2.87],[2016.110,2.90],[2016.126,2.90],[2016.110,2.96],[2016.118,2.97],[2016.134,2.97],[2016.141,2.96],[2016.141,3.02],[2016.157,3.07],[2016.149,3.09],[2016.157,3.15],[2016.141,3.13],[2016.134,3.18],[2016.110,3.22],[2016.102,3.19],[2016.094,3.17],[2016.118,3.29],[2016.110,3.78],[2016.118,3.64],[2016.173,3.64],[2016.181,3.61],[2016.181,3.58],[2016.188,3.56],[2016.188,3.52],[2016.196,3.48],[2016.181,3.47],[2016.173,3.38],[2016.165,3.33],[2016.173,3.29],[2016.181,3.27],[2016.196,3.25],[2016.204,3.22],[2016.196,3.15],[2016.212,3.36],[2016.165,3.97],[2016.181,4.13],[2016.204,3.14],[2016.212,3.07],[2016.220,3.04],[2016.212,3.00],[2016.228,2.98],[2016.235,2.96],[2016.220,2.89],[2016.228,2.88],[2016.243,2.88],[2016.157,2.89],[2016.165,2.87],[2016.235,2.72],[2016.243,2.74],[2016.228,2.69],[2016.235,2.65],[2016.259,2.63],[2016.251,3.08],[2016.134,2.65],[2016.141,2.52],[2016.126,2.66],[2016.267,2.53],[2016.267,2.47],[2016.306,2.40],[2016.314,2.39],[2016.329,2.42],[2016.353,2.44],[2016.337,2.33],[2016.361,2.31],[2016.369,2.33],[2016.314,2.25],[2016.322,2.23],[2016.345,2.26],[2016.353,2.17],[2016.306,2.10],[2016.290,2.09],[2016.275,2.08],[2016.282,2.02],[2016.267,2.00],[2016.275,1.97],[2016.282,1.94],[2016.290,1.92],[2016.306,1.91],[2016.329,2.13],[2016.337,2.06],[2016.361,2.09],[2016.361,1.93],[2016.353,1.91],[2016.345,1.87],[2016.369,1.86],[2016.384,1.85],[2016.392,1.91],[2016.408,1.92],[2016.392,1.74],[2016.400,1.71],[2016.439,1.73],[2016.392,1.57],[2016.384,1.99],[2016.376,2.12],[2016.408,2.13],[2016.416,2.07],[2016.431,2.07],[2016.455,2.14],[2016.478,2.13],[2016.447,2.05],[2016.470,2.05],[2016.494,2.06],[2016.486,2.02],[2016.478,1.97],[2016.463,1.94],[2016.470,1.87],[2016.439,1.85],[2016.431,1.84],[2016.455,1.98],[2016.423,2.01],[2016.384,2.07],[2016.337,2.69],[2016.353,2.68],[2016.337,2.60],[2016.337,2.55],[2016.369,2.47],[2016.400,2.42],[2016.416,2.39],[2016.423,2.35],[2016.439,2.38],[2016.447,2.34],[2016.455,2.42],[2016.478,2.42],[2016.494,2.40],[2016.510,2.39],[2016.510,2.46],[2016.533,2.38],[2016.549,2.36],[2016.572,2.39],[2016.580,2.42],[2016.541,2.29],[2016.557,2.30],[2016.455,2.30],[2016.478,2.27],[2016.502,2.33],[2016.416,2.25],[2016.439,2.48],[2016.463,2.28],[2016.572,2.12],[2016.596,2.12],[2016.541,2.06],[2016.510,3.34],[2016.525,3.17],[2016.517,3.09],[2016.533,3.03],[2016.541,3.00],[2016.541,2.96],[2016.517,2.79],[2016.557,2.78],[2016.572,2.78],[2016.525,2.69],[2016.557,2.68],[2016.572,2.66],[2016.517,2.57],[2016.557,2.60],[2016.564,2.58],[2016.517,2.54],[2016.572,2.53],[2016.580,2.40],[2016.572,2.36],[2016.564,2.29],[2016.564,2.27]];

const points = [].concat(d2010, d2011, d2012, d2013, d2014, d2015, d2016);

// ---------------- layout ----------------
const W = 1610, H = 1195;
const m = { left: 67, right: 54, top: 60, bottom: 101 };
const pw = W - m.left - m.right, ph = H - m.top - m.bottom;

const svg = d3.select("#chart");
const x = d3.scaleLinear().domain([2010, 2017]).range([m.left, m.left + pw]);
const y = d3.scaleLinear().domain([0, 5]).range([m.top + ph, m.top]);

const axisColor = "#262626";
const fontSize = 29;
const tickLen = 15;

// frame
svg.append("rect")
  .attr("x", m.left).attr("y", m.top)
  .attr("width", pw).attr("height", ph)
  .attr("fill", "none").attr("stroke", axisColor).attr("stroke-width", 1.4);

function styleAxis(g) {
  g.select(".domain").remove();
  g.selectAll(".tick line").attr("stroke", axisColor).attr("stroke-width", 1.4);
  g.selectAll("text").attr("fill", "#000").attr("font-size", fontSize)
    .attr("stroke", "#000").attr("stroke-width", 0.5)
    .attr("font-family", "'Liberation Sans', Arial, sans-serif");
}

// bottom axis
svg.append("g").attr("transform", `translate(0,${m.top + ph})`)
  .call(d3.axisBottom(x).tickValues(xTicks).tickFormat(d3.format("d")).tickSizeInner(-tickLen).tickSizeOuter(0))
  .call(styleAxis)
  .call(g => g.selectAll("text").attr("y", 44).attr("dy", null));
// top axis (ticks only)
svg.append("g").attr("transform", `translate(0,${m.top})`)
  .call(d3.axisTop(x).tickValues(xTicks).tickFormat("").tickSizeInner(-tickLen).tickSizeOuter(0))
  .call(styleAxis);
// left axis
svg.append("g").attr("transform", `translate(${m.left},0)`)
  .call(d3.axisLeft(y).tickValues(yTicks).tickFormat((d, i) => yTickLabels[i]).tickSizeInner(-tickLen).tickSizeOuter(0))
  .call(styleAxis)
  .call(g => g.selectAll("text").attr("x", -9).attr("y", 13).attr("dy", null));
// right axis (ticks only)
svg.append("g").attr("transform", `translate(${m.left + pw},0)`)
  .call(d3.axisRight(y).tickValues(yTicks).tickFormat("").tickSizeInner(-tickLen).tickSizeOuter(0))
  .call(styleAxis);

// points
const r = 4.6;
const diamond = `M0,${-r}L${r},0L0,${r}L${-r},0Z`;
svg.append("g").selectAll("path")
  .data(points)
  .join("path")
  .attr("d", diamond)
  .attr("transform", d => `translate(${x(d[0])},${y(d[1])})`)
  .attr("fill", "#0000ff");

// title and axis label
svg.append("text")
  .attr("x", 810).attr("y", 30)
  .attr("text-anchor", "middle")
  .attr("font-size", 27).attr("fill", "#262626")
  .text(chartTitle);

svg.append("text")
  .attr("x", m.left + pw / 2).attr("y", 1184)
  .attr("text-anchor", "middle")
  .attr("font-size", 40).attr("fill", "#000")
  .text(xLabel);
</script>
</body>
</html>
